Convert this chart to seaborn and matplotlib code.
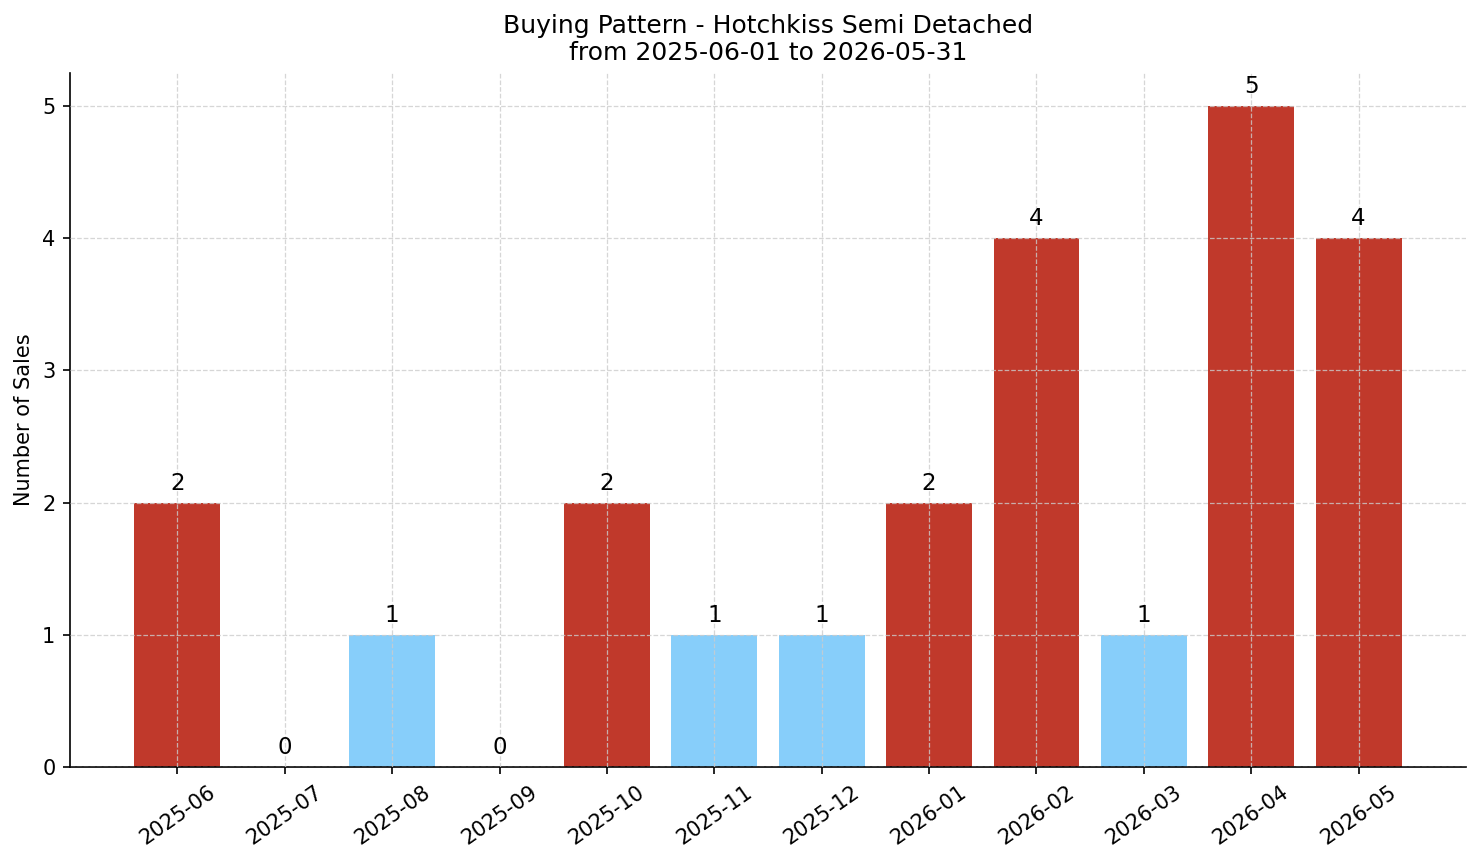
import matplotlib
matplotlib.use("Agg")
import matplotlib.pyplot as plt
import seaborn as sns
import pandas as pd

months = ["2025-06", "2025-07", "2025-08", "2025-09", "2025-10", "2025-11",
          "2025-12", "2026-01", "2026-02", "2026-03", "2026-04", "2026-05"]
sales = [2, 0, 1, 0, 2, 1, 1, 2, 4, 1, 5, 4]
high_color = "#c0392b"
low_color = "#87cefa"

df = pd.DataFrame({"Month": months, "Sales": sales})
df["Level"] = ["high" if s >= 2 else "low" for s in sales]

sns.set_style("ticks", {"text.color": "black", "axes.labelcolor": "black",
                        "xtick.color": "black", "ytick.color": "black",
                        "axes.edgecolor": "black"})
fig = plt.figure(figsize=(1481 / 150, 863 / 150), dpi=150)
ax = fig.add_axes([70 / 1481, 1 - 767 / 863, (1466 - 70) / 1481, (767 - 73) / 863])

sns.barplot(data=df, x="Month", y="Sales", hue="Level",
            palette={"high": high_color, "low": low_color},
            width=0.8, saturation=1, legend=False, linewidth=0, ax=ax)

for i, v in enumerate(sales):
    ax.text(i, v + 0.06, str(v), ha="center", va="bottom", fontsize=11, color="black")

ax.set_xlim(-1, 12)
ax.set_ylim(0, max(sales) * 1.05)
ax.set_xlabel("")
ax.set_ylabel("Number of Sales", fontsize=10)
ax.set_title("Buying Pattern - Hotchkiss Semi Detached\nfrom 2025-06-01 to 2026-05-31",
             fontsize=12, color="black")
ax.grid(True, linestyle="--", color="#cccccc", alpha=0.8, linewidth=0.6)
ax.set_axisbelow(False)
plt.setp(ax.get_xticklabels(), rotation=35, ha="center")
sns.despine(ax=ax)

fig.savefig("out.png", dpi=150)
